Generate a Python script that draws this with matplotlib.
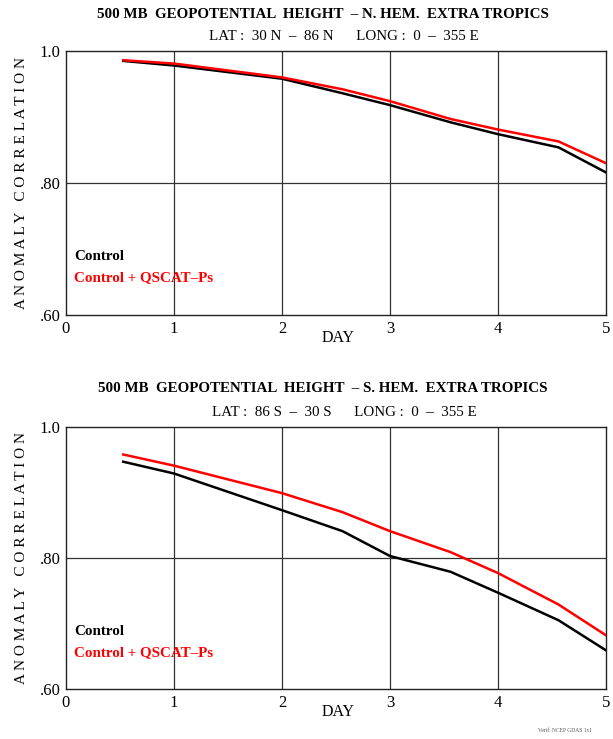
import matplotlib
matplotlib.use("Agg")
import matplotlib.pyplot as plt

days = [0.53, 1.0, 2.0, 2.56, 3.0, 3.56, 4.0, 4.56, 5.0]
nh_control = [0.985, 0.978, 0.958, 0.936, 0.918, 0.892, 0.874, 0.854, 0.816]
nh_qscat = [0.986, 0.981, 0.960, 0.942, 0.924, 0.897, 0.881, 0.863, 0.830]
sh_control = [0.947, 0.929, 0.873, 0.841, 0.803, 0.779, 0.747, 0.705, 0.659]
sh_qscat = [0.958, 0.941, 0.899, 0.870, 0.841, 0.809, 0.777, 0.729, 0.682]

x_ticks = [0, 1, 2, 3, 4, 5]
y_ticks = [0.60, 0.80, 1.0]
y_labels = [".60", ".80", "1.0"]
titles = ["500 MB  GEOPOTENTIAL  HEIGHT  \u2013 N. HEM.  EXTRA TROPICS",
          "500 MB  GEOPOTENTIAL  HEIGHT  \u2013 S. HEM.  EXTRA TROPICS"]
subtitles = ["LAT :  30 N  \u2013  86 N      LONG :  0  \u2013  355 E",
             "LAT :  86 S  \u2013  30 S      LONG :  0  \u2013  355 E"]
series_names = ["Control", "Control + QSCAT\u2013Ps"]

plt.rcParams['font.family'] = ['Liberation Serif', 'DejaVu Serif']

W, H = 613, 739
fig = plt.figure(figsize=(W / 100, H / 100), dpi=100)

def px_axes(left, top, right, bottom):
    return fig.add_axes([left / W, 1 - bottom / H, (right - left) / W, (bottom - top) / H])

panels = [
    (px_axes(66, 51, 606, 315), nh_control, nh_qscat, 14, 37),
    (px_axes(66, 427, 606, 689), sh_control, sh_qscat, 389, 412),
]

for i, (ax, ctrl, qs, ty, sy) in enumerate(panels):
    ax.set_xlim(0, 5)
    ax.set_ylim(0.60, 1.0)
    for d in x_ticks[1:-1]:
        ax.axvline(d, color='#333333', lw=0.9, zorder=1)
    ax.axhline(0.80, color='#333333', lw=0.9, zorder=1)
    ax.plot(days, ctrl, color='black', lw=1.8, zorder=3)
    ax.plot(days, qs, color='#ff0000', lw=1.8, zorder=4)
    ax.set_xticks(x_ticks)
    ax.set_xticklabels([str(t) for t in x_ticks], fontsize=12)
    ax.set_yticks(y_ticks)
    ax.set_yticklabels(y_labels, fontsize=12)
    ax.tick_params(length=0, pad=4)
    for s in ax.spines.values():
        s.set_linewidth(1.0)
        s.set_color('#222222')
    ax.set_xlabel("DAY", fontsize=11.5)
    ax.xaxis.set_label_coords(272 / 540, -0.058)
    ax.set_ylabel("A N O M A L Y   C O R R E L A T I O N", fontsize=11)
    ax.yaxis.set_label_coords(-38 / 540, 0.5)
    ax.text(0.015, 0.22, series_names[0], transform=ax.transAxes, color='black',
            fontsize=10.8, fontweight='bold', va='center')
    ax.text(0.015, 0.14, series_names[1], transform=ax.transAxes, color='#ff0000',
            fontsize=10.8, fontweight='bold', va='center')
    fig.text(323 / W, 1 - ty / H, titles[i], ha='center', va='center',
             fontsize=10.8, fontweight='bold')
    fig.text(344 / W, 1 - sy / H, subtitles[i], ha='center', va='center', fontsize=10.8)

fig.text(565 / W, 1 - 731 / H, "Verif: NCEP GDAS 1x1", ha='center', va='center',
         fontsize=4, color='#555555')

fig.savefig("out.png", dpi=100)
